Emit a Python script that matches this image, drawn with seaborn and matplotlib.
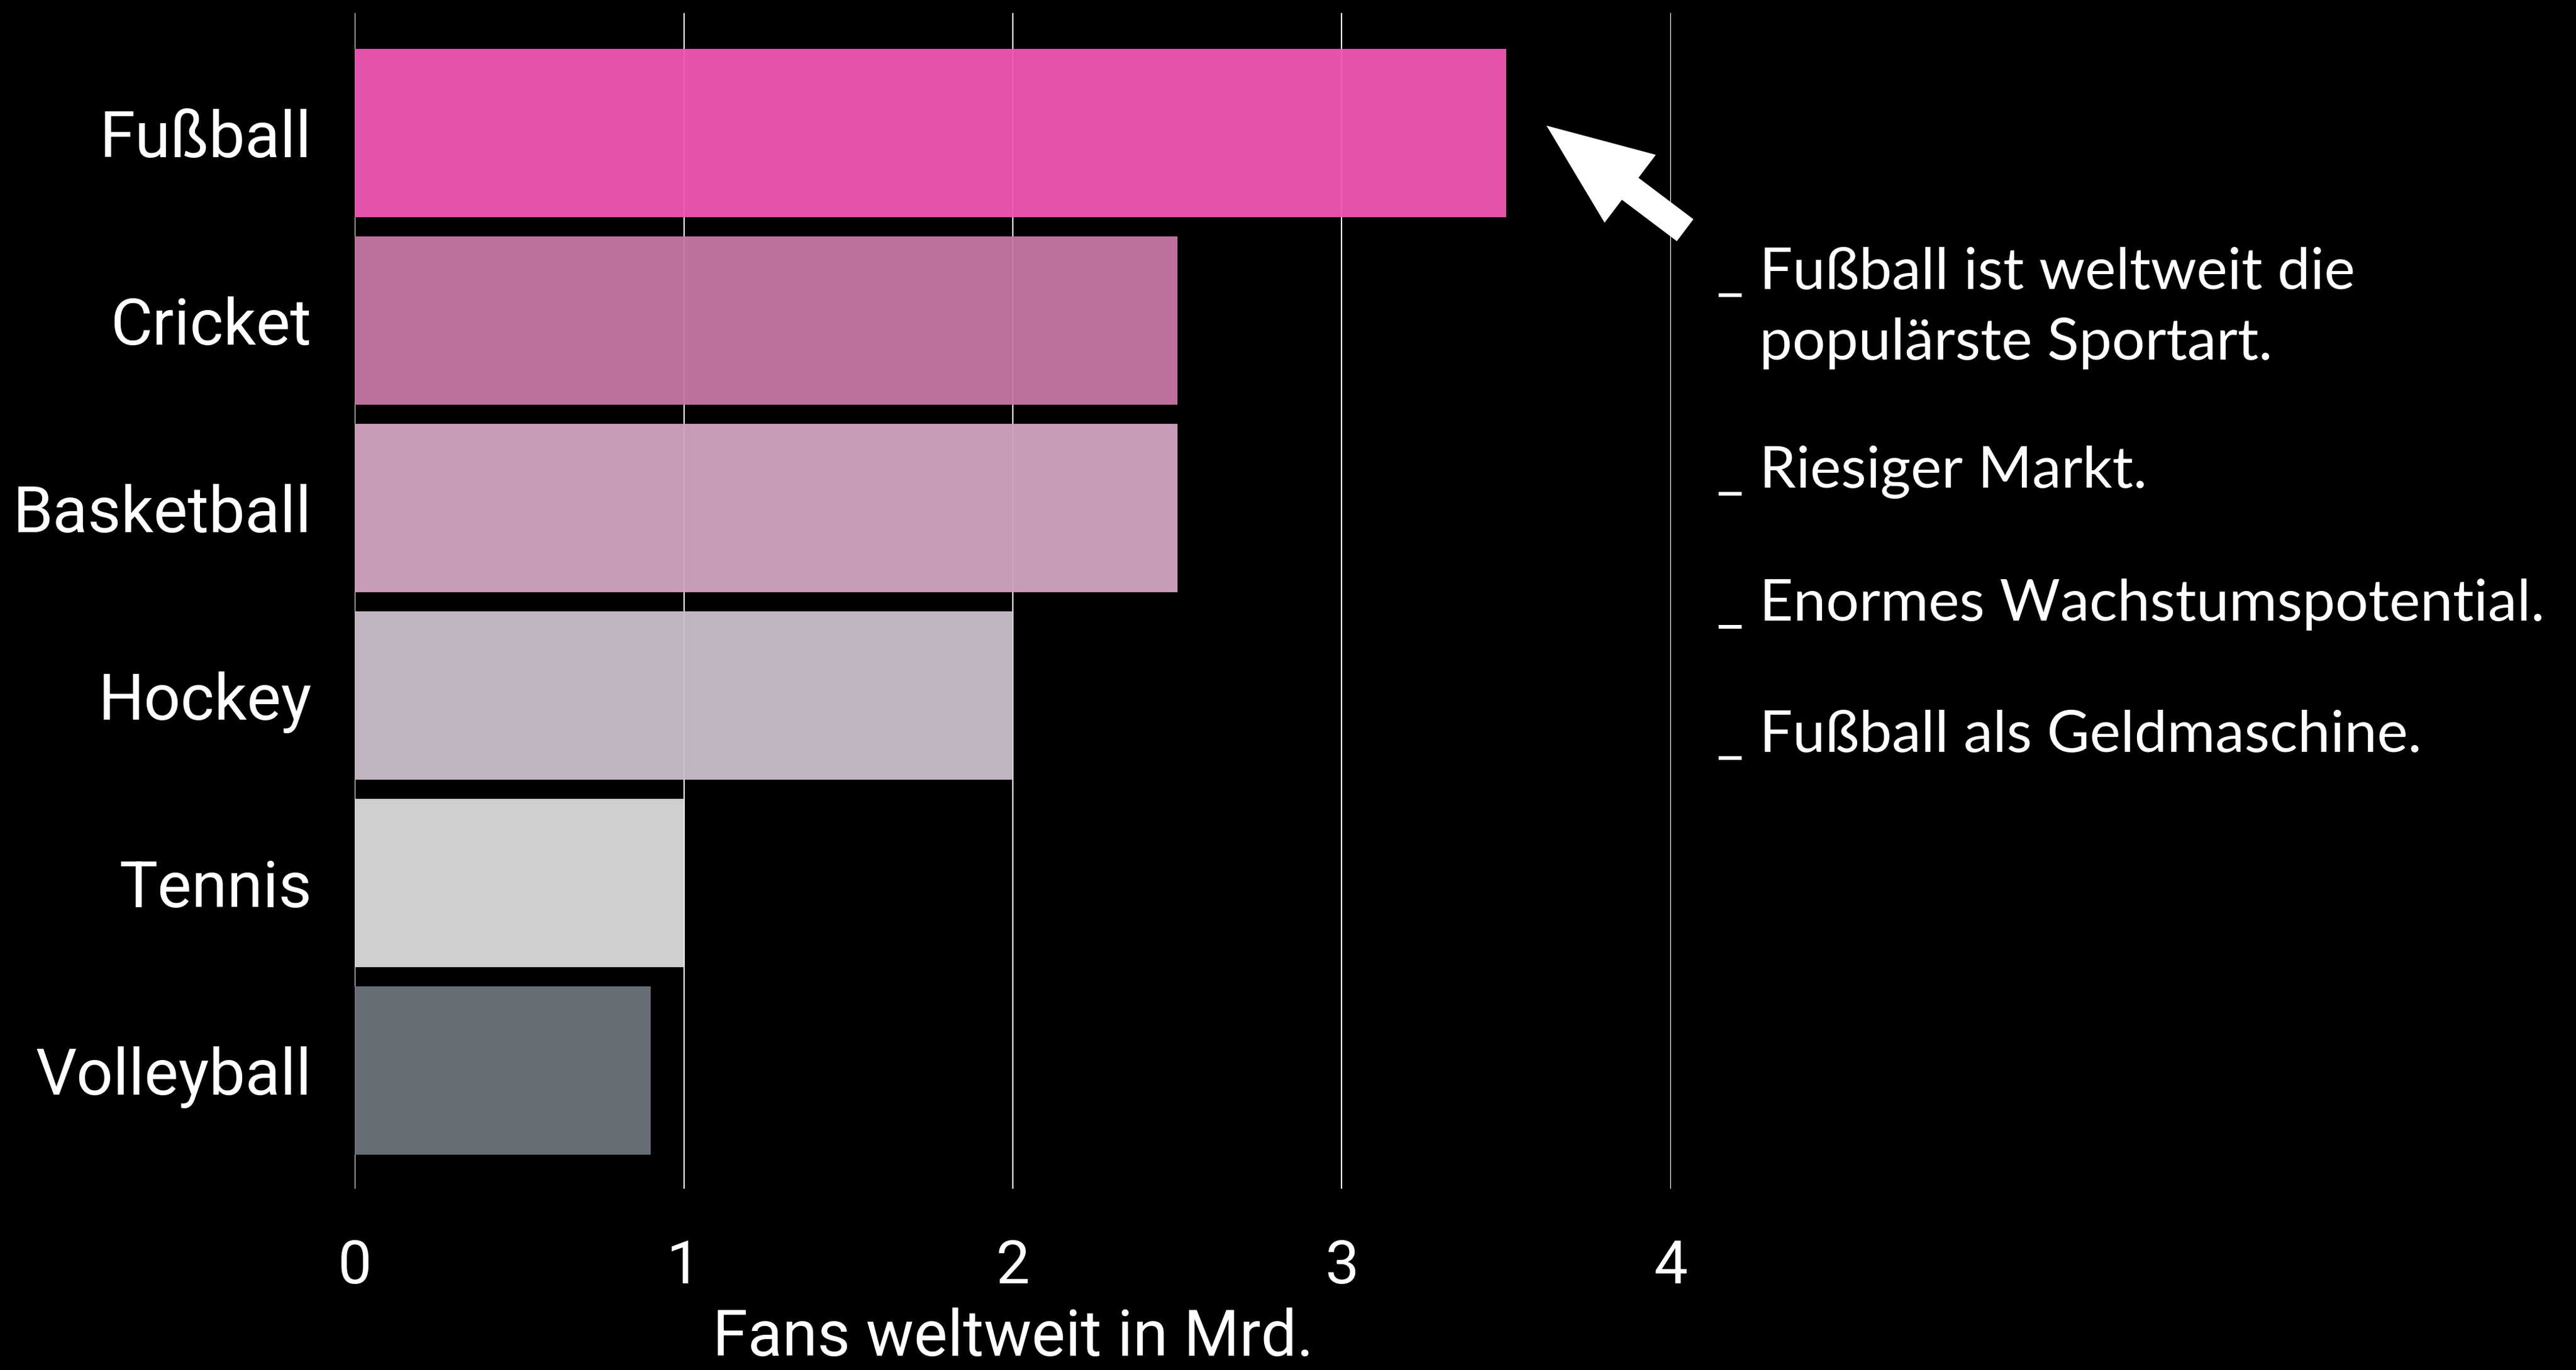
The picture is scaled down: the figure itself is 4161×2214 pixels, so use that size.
import matplotlib
matplotlib.use("Agg")
import matplotlib.pyplot as plt
import seaborn as sns
import pandas as pd

categories = ["Fußball", "Cricket", "Basketball", "Hockey", "Tennis", "Volleyball"]
fans = [3.5, 2.5, 2.5, 2.0, 1.0, 0.9]
bar_colors = ["#EF57B3", "#C676A3", "#D1A2C1", "#CABDCA", "#D8D9DB", "#6D737C"]
x_ticks = [0, 1, 2, 3, 4]
x_label = "Fans weltweit in Mrd."
notes = [
    ("_", "Fußball ist weltweit die"),
    ("", "populärste Sportart."),
    ("_", "Riesiger Markt."),
    ("_", "Enormes Wachstumspotential."),
    ("_", "Fußball als Geldmaschine."),
]

sns.set_theme(style="dark")
plt.rcParams["font.family"] = ["Roboto", "DejaVu Sans"]

W, H, DPI = 4161, 2214, 100
fig = plt.figure(figsize=(W / DPI, H / DPI), dpi=DPI, facecolor="black")
ax = fig.add_axes([573 / W, 1 - 1921 / H, (2699 - 573) / W, (1921 - 21) / H])
ax.set_facecolor("black")

df = pd.DataFrame({"sport": categories, "fans": fans})
sns.barplot(data=df, x="fans", y="sport", hue="sport", palette=bar_colors,
            orient="h", width=0.9, legend=False, ax=ax, saturation=1,
            alpha=0.96, zorder=2, linewidth=0)

ax.set_xlim(0, 4)
ax.set_ylim(5.63, -0.64)
ax.set_xticks(x_ticks)
ax.set_xticklabels([str(t) for t in x_ticks])
ax.grid(axis="x", color="white", linewidth=1.5, zorder=1)
ax.grid(axis="y", visible=False)
ax.set_axisbelow(True)
for s in ax.spines.values():
    s.set_visible(False)
ax.tick_params(axis="y", length=0, pad=50, labelsize=75, labelcolor="white")
ax.tick_params(axis="x", length=0, pad=58, labelsize=70, labelcolor="white")
ax.set_ylabel("")
ax.set_xlabel(x_label, fontsize=74, color="white", labelpad=14)

# annotation arrow (figure pixel coordinates)
ax.annotate("", xy=(2498, H - 203), xytext=(2722, H - 372),
            xycoords="figure pixels", textcoords="figure pixels",
            arrowprops=dict(arrowstyle="simple,head_length=1.22,head_width=0.99,tail_width=0.32",
                            mutation_scale=100, fc="white", ec="none",
                            shrinkA=0, shrinkB=0))

baselines = [467, 581, 788, 1003, 1215]
for (bullet, txt), yb in zip(notes, baselines):
    if bullet:
        fig.text(2773 / W, 1 - yb / H, bullet, color="white", fontsize=68,
                 family=["Lato", "DejaVu Sans"], fontweight="normal", va="baseline", ha="left")
    fig.text(2842 / W, 1 - yb / H, txt, color="white", fontsize=68,
             family=["Lato", "DejaVu Sans"], fontweight="normal", va="baseline", ha="left")

fig.savefig("out.png", dpi=DPI, facecolor="black")
